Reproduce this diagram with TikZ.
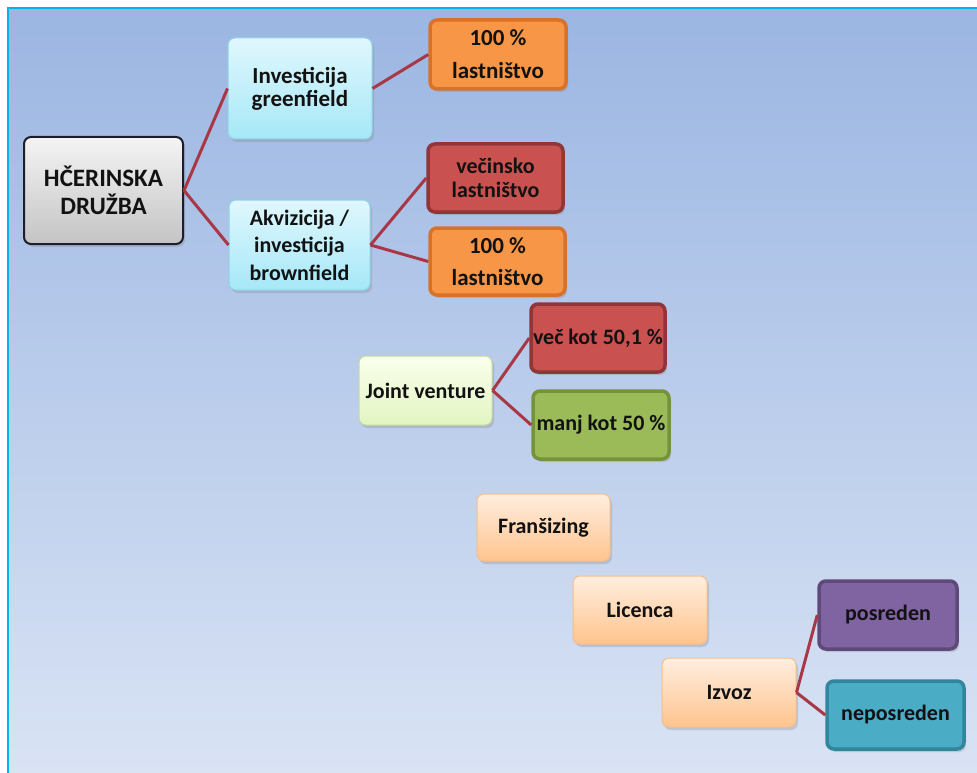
\documentclass[tikz,border=0pt]{standalone}
\usepackage{fontspec}
\setmainfont{Carlito}
\usetikzlibrary{shadows}

% palette
\definecolor{bgtop}{HTML}{9BB6E2}
\definecolor{bgbot}{HTML}{D9E3F4}
\definecolor{frameline}{HTML}{00B4EE}
\definecolor{conn}{HTML}{A83846}
\definecolor{txt}{HTML}{121212}
\definecolor{orangefill}{HTML}{F79646}
\definecolor{orangeline}{HTML}{D8722A}
\definecolor{redfill}{HTML}{C95150}
\definecolor{redline}{HTML}{913536}
\definecolor{greenfill}{HTML}{9BBB59}
\definecolor{greenline}{HTML}{76923C}
\definecolor{purplefill}{HTML}{8064A2}
\definecolor{purpleline}{HTML}{5F497A}
\definecolor{tealfill}{HTML}{4BACC6}
\definecolor{tealline}{HTML}{31859C}
\definecolor{cyantop}{HTML}{E0F7FD}
\definecolor{cyanbot}{HTML}{A6E8F8}
\definecolor{cyanline}{HTML}{8FD3E6}
\definecolor{limetop}{HTML}{FAFFEC}
\definecolor{limebot}{HTML}{E2F5C2}
\definecolor{limeline}{HTML}{C5DC9C}
\definecolor{peachtop}{HTML}{FFEEDF}
\definecolor{peachbot}{HTML}{FFC48E}
\definecolor{peachline}{HTML}{F6BE8E}
\definecolor{graytop}{HTML}{F4F4F4}
\definecolor{graybot}{HTML}{C4C4C4}
\definecolor{grayline}{HTML}{1E1E2A}

\tikzset{
  base/.style={rounded corners=7pt, align=center, inner sep=0pt, text=txt,
    font=\bfseries\fontsize{22}{24}\selectfont},
  softshadow/.style={drop shadow={opacity=0.28, shadow xshift=2pt, shadow yshift=-3pt}},
  solidbox/.style 2 args={base, fill=#1, draw=#2, line width=3.5pt, softshadow},
  lightbox/.style n args={3}{base, top color=#1, bottom color=#2, draw=#3,
    line width=1pt, softshadow},
  link/.style={draw=conn, line width=3pt},
}

\begin{document}
\begin{tikzpicture}[x=1pt, y=-1pt]
  % page and panel
  \useasboundingbox (0,0) rectangle (977,773);
  \fill[white] (0,0) rectangle (977,773);
  \shade[top color=bgtop, bottom color=bgbot] (9,9) rectangle (977,773);
  \draw[frameline, line width=2pt] (8,773) -- (8,8) -- (977,8);

  % root
  \node[lightbox={graytop}{graybot}{grayline}, line width=2pt,
        minimum width=159pt, minimum height=107pt,
        font=\bfseries\fontsize{25}{28}\selectfont] (root) at (103.5,190.5)
        {HČERINSKA\\DRUŽBA};

  % subsidiaries
  \node[lightbox={cyantop}{cyanbot}{cyanline}, minimum width=144pt, minimum height=101pt,
        font=\bfseries\fontsize{23}{23}\selectfont] (green) at (300,88.5)
        {Investicija\\greenfield};
  \node[lightbox={cyantop}{cyanbot}{cyanline}, minimum width=141pt, minimum height=90pt,
        font=\bfseries\fontsize{22}{27.5}\selectfont] (brown) at (299.5,245)
        {Akvizicija /\\investicija\\brownfield};

  \node[solidbox={orangefill}{orangeline}, minimum width=136pt, minimum height=69pt,
        font=\bfseries\fontsize{23}{33}\selectfont] (full1) at (498,54.5)
        {100 \%\\lastništvo};
  \node[solidbox={redfill}{redline}, minimum width=135pt, minimum height=68pt,
        font=\bfseries\fontsize{22}{24}\selectfont] (major) at (495.5,178)
        {večinsko\\lastništvo};
  \node[solidbox={orangefill}{orangeline}, minimum width=135pt, minimum height=67pt,
        font=\bfseries\fontsize{23}{32}\selectfont] (full2) at (497.5,261.5)
        {100 \%\\lastništvo};

  % joint venture
  \node[lightbox={limetop}{limebot}{limeline}, minimum width=133pt, minimum height=69pt]
        (jv) at (425.5,390.5) {Joint venture};
  \node[solidbox={redfill}{redline}, minimum width=134pt, minimum height=68pt]
        (more) at (598,338) {več kot 50,1 \%};
  \node[solidbox={greenfill}{greenline}, minimum width=136pt, minimum height=68pt]
        (less) at (601,425) {manj kot 50 \%};

  % other entry modes
  \node[lightbox={peachtop}{peachbot}{peachline}, minimum width=133pt, minimum height=67pt]
        (fran) at (543.5,527.5) {Franšizing};
  \node[lightbox={peachtop}{peachbot}{peachline}, minimum width=134pt, minimum height=68pt]
        (lic) at (640,610) {Licenca};
  \node[lightbox={peachtop}{peachbot}{peachline}, minimum width=134pt, minimum height=69pt]
        (exp) at (729,692.5) {Izvoz};
  \node[solidbox={purplefill}{purpleline}, minimum width=138pt, minimum height=68pt]
        (ind) at (888,615) {posreden};
  \node[solidbox={tealfill}{tealline}, minimum width=137pt, minimum height=68pt]
        (dir) at (895.5,715) {neposreden};

  % connectors
  \draw[link] (root.east) -- (green.west);
  \draw[link] (root.east) -- (brown.west);
  \draw[link] (green.east) -- (full1.west);
  \draw[link] (brown.east) -- (major.west);
  \draw[link] (brown.east) -- (full2.west);
  \draw[link] (jv.east) -- (more.west);
  \draw[link] (jv.east) -- (less.west);
  \draw[link] (exp.east) -- (ind.west);
  \draw[link] (exp.east) -- (dir.west);
\end{tikzpicture}
\end{document}
